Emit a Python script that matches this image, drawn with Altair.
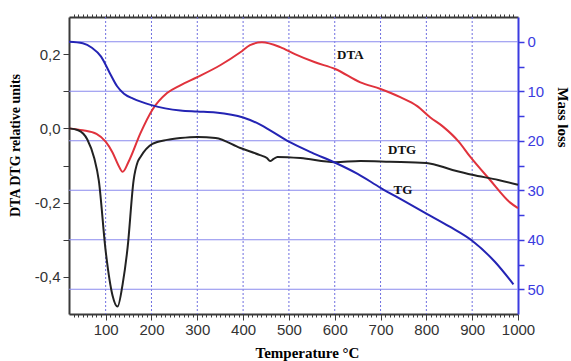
import altair as alt
import pandas as pd

# ---- data ----
tg_temp = [20, 50, 70, 90, 110, 125, 140, 160, 200, 263, 300, 340, 400, 430, 459, 500,
           550, 600, 650, 700, 750, 800, 850, 900, 950, 990]
tg_loss = [0, 0.3, 1.2, 3, 6.5, 9, 10.5, 11.5, 12.8, 13.9, 14.1, 14.3, 15.3, 16.4, 17.9, 20.2,
           22.4, 24.4, 26.7, 29.5, 32.1, 34.7, 37.3, 40.2, 44.5, 49]

dta_temp = [20, 50, 80, 100, 115, 128, 137, 150, 176, 202, 234, 263, 300, 350, 394,
            415, 441, 481, 513, 557, 601, 656, 700, 743, 780, 808, 837, 870, 896, 939, 983, 1000]
dta_val = [0, -0.005, -0.015, -0.036, -0.065, -0.1, -0.117, -0.09, -0.013, 0.05, 0.095, 0.116,
           0.138, 0.17, 0.205, 0.224, 0.232, 0.219, 0.2, 0.178, 0.16, 0.124, 0.106,
           0.084, 0.06, 0.03, 0.004, -0.035, -0.077, -0.139, -0.2, -0.215]

dtg_temp = [20, 40, 60, 75, 85, 100, 115, 126, 137, 148, 161, 170, 176, 202, 234, 263, 300,
            340, 394, 437, 452, 459, 466, 475, 525, 601, 656, 720, 800, 857, 900, 957, 1000]
dtg_val = [0, -0.005, -0.03, -0.08, -0.14, -0.33, -0.45, -0.48, -0.42, -0.32, -0.14, -0.09,
           -0.077, -0.042, -0.031, -0.026, -0.023, -0.026, -0.053, -0.072, -0.08, -0.088,
           -0.083, -0.077, -0.08, -0.091, -0.088, -0.09, -0.093, -0.112, -0.125, -0.139, -0.152]

label_text = ["DTA", "DTG", "TG"]
label_temp = [634, 747, 749]
label_val = [0.197, -0.059, -0.166]

x_major = [100, 200, 300, 400, 500, 600, 700, 800, 900, 1000]
x_grid = [100, 200, 300, 400, 500, 600, 700, 800, 900]
x_minor = list(range(30, 1000, 10))
left_ticks = [-0.4, -0.3, -0.2, -0.1, 0.0, 0.1, 0.2]
right_ticks = [0, 5, 10, 15, 20, 25, 30, 35, 40, 45, 50]
h_grid = [0, 10, 20, 30, 40, 50]

# ---- tables ----
tg_df = pd.DataFrame({"t": tg_temp, "v": tg_loss})
dta_df = pd.DataFrame({"t": dta_temp, "v": dta_val})
dtg_df = pd.DataFrame({"t": dtg_temp, "v": dtg_val})
lab_df = pd.DataFrame({"t": label_temp, "v": label_val, "s": label_text})
vgrid_df = pd.DataFrame({"t": x_grid})
hgrid_df = pd.DataFrame({"v": h_grid})

xs = alt.Scale(domain=[20, 1000], nice=False, zero=False)
LEFT_DOM = [-0.5, 0.3]
RIGHT_DOM = [-5, 55]


def ys_left():
    return alt.Scale(domain=LEFT_DOM, nice=False, zero=False)


def ys_right():
    return alt.Scale(domain=RIGHT_DOM, nice=False, zero=False, reverse=True)


AX_GRAY = "#3a3a3a"
BLUE_AX = "#3b3be0"
SANS = "Liberation Sans"
SERIF = "Liberation Serif"

vgrid = alt.Chart(vgrid_df).mark_rule(color="#6f6fe0", strokeDash=[2, 2], strokeWidth=1).encode(
    x=alt.X("t:Q", scale=xs, axis=None)
)

hgrid = alt.Chart(hgrid_df).mark_rule(color="#8a8aee", strokeWidth=1.2).encode(
    y=alt.Y("v:Q", scale=ys_right(), axis=None)
)

dta = alt.Chart(dta_df).mark_line(color="#e0323c", strokeWidth=2, interpolate="monotone").encode(
    x=alt.X("t:Q", scale=xs, axis=alt.Axis(
        orient="bottom", values=x_major, format="d", grid=False, tickSize=6,
        tickColor=AX_GRAY, domainColor=AX_GRAY, domainWidth=2, labelFont=SANS,
        labelFontSize=15, labelColor="#333333", labelPadding=2, labelOverlap=False,
        labelFlush=False,
        title="Temperature  °C", titleFont=SERIF, titleFontSize=15, titleFontWeight="bold",
        titleColor="#000000", titleX=238, titleY=38, titleBaseline="middle")),
    y=alt.Y("v:Q", scale=ys_left(), axis=alt.Axis(
        orient="left", values=left_ticks, grid=False, tickSize=6, tickColor=AX_GRAY,
        domainColor=AX_GRAY, domainWidth=2, labelFont=SANS, labelFontSize=15,
        labelColor="#333333", labelPadding=3, labelOverlap=False, labelFlush=False,
        labelExpr="abs(round(datum.value*10))%2==0 ? replace(replace(format(datum.value,'.1f'),'.',','),'\u2212','-') : ''",
        title="DTA DTG relative units", titleFont=SERIF, titleFontSize=14,
        titleFontWeight="bold", titleColor="#000000", titleX=-54, titleY=128,
        titleBaseline="middle")),
)

dtg = alt.Chart(dtg_df).mark_line(color="#222222", strokeWidth=2, interpolate="monotone").encode(
    x=alt.X("t:Q", scale=xs, axis=alt.Axis(
        orient="bottom", values=x_minor, labels=False, grid=False, domain=False,
        tickSize=3, tickColor=AX_GRAY, title=None)),
    y=alt.Y("v:Q", scale=ys_left(), axis=None),
)

labels = alt.Chart(lab_df).mark_text(font=SERIF, fontSize=13, fontWeight="bold",
                                      color="#111111").encode(
    x=alt.X("t:Q", scale=xs, axis=None),
    y=alt.Y("v:Q", scale=ys_left(), axis=None),
    text="s:N",
)

tg = alt.Chart(tg_df).mark_line(color="#2424b4", strokeWidth=2, interpolate="monotone").encode(
    x=alt.X("t:Q", scale=xs, axis=alt.Axis(
        orient="top", values=x_minor, labels=False, grid=False, tickSize=3,
        tickColor=AX_GRAY, domainColor=AX_GRAY, domainWidth=2, title=None)),
    y=alt.Y("v:Q", scale=ys_right(), axis=alt.Axis(
        orient="right", values=right_ticks, grid=False, tickSize=6, tickColor=BLUE_AX,
        tickWidth=1.5, domainColor=BLUE_AX, domainWidth=2, labelFont=SANS,
        labelFontSize=15, labelColor=BLUE_AX, labelPadding=3, labelOverlap=False,
        labelFlush=False,
        labelExpr="datum.value % 10 == 0 ? datum.value : ''",
        title="Mass loss", titleFont=SERIF, titleFontSize=15, titleFontWeight="bold",
        titleColor="#000000", titleAngle=90, titleX=44, titleY=100,
        titleBaseline="middle")),
)

chart = alt.layer(vgrid, hgrid, dta, dtg, labels, tg).resolve_scale(
    y="independent"
).resolve_axis(x="independent", y="independent").properties(
    width=449, height=297,
    autosize=alt.AutoSizeParams(type="none"),
    padding={"left": 69, "top": 17, "right": 53, "bottom": 47},
    background="white",
).configure_view(stroke=None)

chart.save("out.html", embed_options={"renderer": "svg", "actions": False})
